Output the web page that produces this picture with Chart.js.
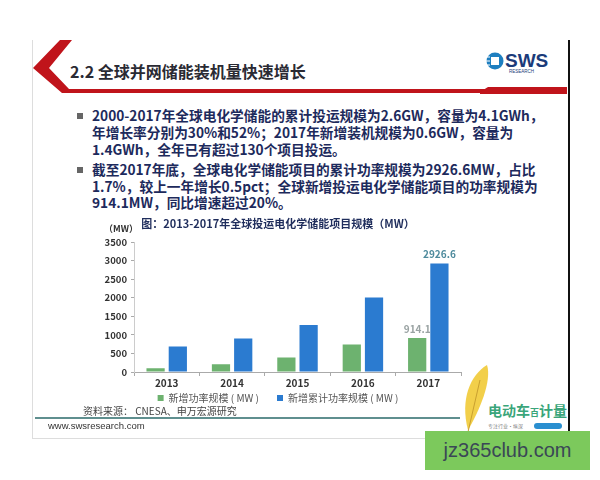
<!DOCTYPE html>
<html>
<head>
<meta charset="utf-8">
<script src="https://cdn.jsdelivr.net/npm/chart.js@4/dist/chart.umd.min.js"></script>
<style>
body{margin:0;width:600px;height:480px;position:relative;background:#fff;overflow:hidden;
  font-family:"Noto Sans CJK SC","Noto Sans",sans-serif}
.abs{position:absolute;white-space:nowrap}
.slide{left:32px;top:40px;width:535px;height:398px;border-left:1px solid #ddd;border-bottom:1px solid #ddd;border-right:2px solid #111}
.title{left:70px;top:59px;font-size:16px;font-weight:bold;color:#2a2a33}
.line{left:92px;font-size:13.7px;font-weight:bold;color:#1d2a5c;line-height:17px}
.bullet{left:77px;width:6px;height:6px;background:#666}
.src{left:83px;top:403px;font-size:10px;color:#444}
.url{left:48px;top:420px;font-size:9.5px;color:#333;font-family:"Liberation Sans",Arial,sans-serif}
.foot{left:35px;top:417px;width:425px;height:2px;background:#5f8f8f}
.wm{left:425px;top:431px;width:165px;height:39px;background:#7cc95c;color:#3a4756;font-size:20px;
  font-family:"Liberation Sans",Arial,sans-serif;line-height:39px;text-align:center}
.unit{left:104px;top:222px;font-size:9px;color:#333;font-weight:bold}
</style>
</head>
<body>
<div class="abs slide"></div>
<svg class="abs" style="left:0;top:0" width="600" height="480">
  <polygon points="60,40 72,40 49,68 69,89 567,89 567,93 62,93 33,68" fill="#c0141b"/>
  <polygon points="480,92 488,87 567,87 567,94 480,94" fill="#c0141b"/>
  <circle cx="495" cy="61" r="8.5" fill="#1e7fc0"/>
  <rect x="491" y="57" width="8" height="8" fill="#fff"/>
  <line x1="482" y1="57" x2="490" y2="57" stroke="#fff" stroke-width="1"/>
  <line x1="482" y1="61" x2="490" y2="61" stroke="#fff" stroke-width="1"/>
  <line x1="482" y1="65" x2="490" y2="65" stroke="#fff" stroke-width="1"/>
  <text x="505" y="67" font-family="Liberation Sans,Arial" font-weight="bold" font-size="19" fill="#1b3b7a">SWS</text>
  <text x="509" y="73" font-family="Liberation Sans,Arial" font-size="4.5" fill="#1b3b7a">RESEARCH</text>
  <path d="M468,430 C460,400 470,375 487,365 C492,380 480,410 468,430 Z" fill="#f2cf4a"/>
  <line x1="468" y1="432" x2="480" y2="380" stroke="#c9a030" stroke-width="1"/>
  <text x="488" y="416" font-family="Noto Sans CJK SC" font-weight="bold" font-size="14" fill="#3aa57a">电动车<tspan font-size="9">百</tspan>计量</text>
  <text x="488" y="428" font-family="Noto Sans CJK SC" font-size="5" fill="#777">专注行业·纵深</text>
  <rect x="534" y="423" width="28" height="6" rx="3" fill="#2a8fd0"/>
</svg>
<div class="abs title">2.2 全球并网储能装机量快速增长</div>

<div class="abs bullet" style="top:113px"></div>
<div class="abs line" style="top:107px">2000-2017年全球电化学储能的累计投运规模为2.6GW，容量为4.1GWh，</div>
<div class="abs line" style="top:124px">年增长率分别为30%和52%；2017年新增装机规模为0.6GW，容量为</div>
<div class="abs line" style="top:141px">1.4GWh，全年已有超过130个项目投运。</div>
<div class="abs bullet" style="top:167px"></div>
<div class="abs line" style="top:161px">截至2017年底，全球电化学储能项目的累计功率规模为2926.6MW，占比</div>
<div class="abs line" style="top:178px">1.7%，较上一年增长0.5pct；全球新增投运电化学储能项目的功率规模为</div>
<div class="abs line" style="top:194px">914.1MW，同比增速超过20%。</div>

<div class="abs" style="left:95px;top:212px;width:372px;height:201px">
  <canvas id="mycanvas" width="372" height="201"></canvas>
</div>
<div class="abs unit">（MW）</div>

<div class="abs foot"></div>
<div class="abs src">资料来源： CNESA、申万宏源研究</div>
<div class="abs url">www.swsresearch.com</div>
<div class="abs wm">jz365club.com</div>

<script>
var years = ['2013', '2014', '2015', '2016', '2017'];
var newPower = [100, 210, 390, 740, 914.1];
var cumPower = [690, 900, 1270, 2010, 2926.6];
var yMax = 3500;
var yStep = 500;

// value labels on the 2017 bars only
var lastLabels = {
    id: 'lastLabels',
    afterDatasetsDraw: function(chart){
        var ctx = chart.ctx;
        var colors = ['#9aa3a3', '#4d8a9c'];
        chart.data.datasets.forEach(function(ds, di){
            var meta = chart.getDatasetMeta(di);
            var i = ds.data.length - 1;
            var bar = meta.data[i];
            ctx.save();
            ctx.font = 'bold 10px "Noto Sans CJK SC", sans-serif';
            ctx.fillStyle = colors[di];
            ctx.textAlign = 'center';
            ctx.textBaseline = 'bottom';
            ctx.fillText(String(ds.data[i]), bar.x, bar.y - 4);
            ctx.restore();
        });
    }
};

var font = '"Noto Sans CJK SC", sans-serif';
var ctx = document.getElementById('mycanvas');
var chart = new Chart(ctx, {
    type: 'bar',
    data: {
        labels: years,
        datasets: [
            {
                label: '新增功率规模 ( MW )',
                backgroundColor: '#6db26f',
                data: newPower
            },
            {
                label: '新增累计功率规模 ( MW )',
                backgroundColor: '#2b7bd0',
                data: cumPower
            }
        ]
    },
    options: {
        responsive: false,
        animation: false,
        layout: {padding: {left: 0, right: 6, top: 0, bottom: 0}},
        datasets: {bar: {categoryPercentage: 0.68, barPercentage: 0.82}},
        plugins: {
            title: {
                display: true,
                text: '图：2013-2017年全球投运电化学储能项目规模（MW）',
                color: '#1f2d5c',
                font: {size: 11, weight: 'bold', family: font},
                padding: {top: 5, bottom: 12}
            },
            legend: {
                position: 'bottom',
                labels: {
                    boxWidth: 6, boxHeight: 6, padding: 3,
                    color: '#555',
                    font: {size: 10, family: font},
                    generateLabels: function(chart){
                        var items = Chart.defaults.plugins.legend.labels.generateLabels(chart);
                        // extra room between the two entries
                        items[0].text = items[0].text + '\u2002\u2002\u2002';
                        return items;
                    }
                }
            },
            tooltip: {enabled: false}
        },
        scales: {
            x: {
                grid: {display: true, drawOnChartArea: false, offset: true, tickLength: 4, color: '#aaa'},
                border: {color: '#aaa'},
                ticks: {color: '#333', padding: 1, font: {size: 10, weight: 'bold', family: font}}
            },
            y: {
                min: 0, max: yMax,
                grid: {display: true, drawOnChartArea: false, tickLength: 3, color: '#aaa'},
                border: {display: true, color: '#ccc'},
                ticks: {
                    stepSize: yStep, color: '#333', padding: 4,
                    font: {size: 9.5, weight: 'bold', family: font},
                    callback: function(v){ return String(v); }
                },
                afterFit: function(s){ s.width = 39; }
            }
        }
    },
    plugins: [lastLabels]
});
</script>
</body>
</html>
